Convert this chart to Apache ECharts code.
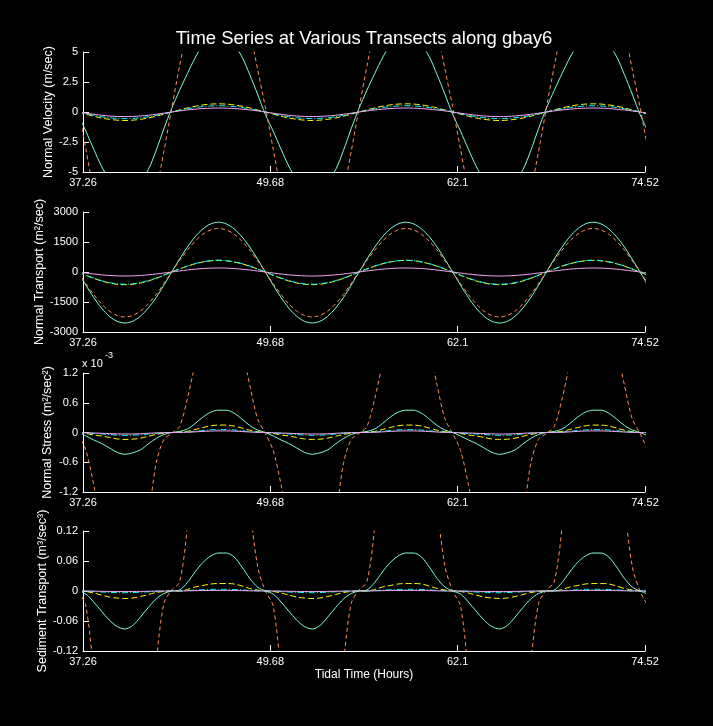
<!DOCTYPE html>
<html>
<head>
<meta charset="utf-8">
<title>Time Series at Various Transects along gbay6</title>
<script src="https://cdn.jsdelivr.net/npm/echarts@6/dist/echarts.min.js"></script>
<style>
  html, body { margin: 0; padding: 0; background: #000; }
  #chart { width: 713px; height: 726px; }
</style>
</head>
<body>
<div id="chart"></div>
<script>
// tidal time (hours), one sample every 12.42/24 h
var time = [
  36.93, 37.45, 37.97, 38.48, 39.00, 39.52, 40.04, 40.55, 41.07, 41.59, 42.11, 42.62,
  43.14, 43.66, 44.18, 44.69, 45.21, 45.73, 46.25, 46.76, 47.28, 47.80, 48.32, 48.83,
  49.35, 49.87, 50.39, 50.90, 51.42, 51.94, 52.46, 52.97, 53.49, 54.01, 54.53, 55.04,
  55.56, 56.08, 56.60, 57.11, 57.63, 58.15, 58.67, 59.18, 59.70, 60.22, 60.74, 61.25,
  61.77, 62.29, 62.81, 63.32, 63.84, 64.36, 64.88, 65.39, 65.91, 66.43, 66.95, 67.46,
  67.98, 68.50, 69.02, 69.53, 70.05, 70.57, 71.09, 71.60, 72.12, 72.64, 73.16, 73.67,
  74.19, 74.71
];
var xTicks = [37.26, 49.68, 62.1, 74.52];

// Normal Velocity (m/sec)
var velAqua = [
  -0.2, -1.6, -3.1, -4.5, -5.6, -6.2, -6.5, -6.3, -5.7, -4.8, -3.2, -1.4, 0.3, 1.8, 3.2, 4.5, 5.6, 6.2, 6.4, 6.2, 5.6, 4.6, 3.1, 1.5,
  -0.2, -1.6, -3.1, -4.5, -5.6, -6.2, -6.5, -6.3, -5.7, -4.8, -3.2, -1.4, 0.3, 1.8, 3.2, 4.5, 5.6, 6.2, 6.4, 6.2, 5.6, 4.6, 3.1, 1.5,
  -0.2, -1.6, -3.1, -4.5, -5.6, -6.2, -6.5, -6.3, -5.7, -4.8, -3.2, -1.4, 0.3, 1.8, 3.2, 4.5, 5.6, 6.2, 6.4, 6.2, 5.6, 4.6, 3.1, 1.5,
  -0.2, -1.6
];
var velCoral = [
  0.4, -3.1, -6.6, -9.5, -11.6, -12.9, -13.3, -12.9, -11.6, -9.5, -6.6, -3.3, 0.3, 3.8, 7.0, 9.8, 11.8, 13.0, 13.4, 13.0, 11.8, 9.6, 6.8, 3.6,
  0.4, -3.1, -6.6, -9.5, -11.6, -12.9, -13.3, -12.9, -11.6, -9.5, -6.6, -3.3, 0.3, 3.8, 7.0, 9.8, 11.8, 13.0, 13.4, 13.0, 11.8, 9.6, 6.8, 3.6,
  0.4, -3.1, -6.6, -9.5, -11.6, -12.9, -13.3, -12.9, -11.6, -9.5, -6.6, -3.3, 0.3, 3.8, 7.0, 9.8, 11.8, 13.0, 13.4, 13.0, 11.8, 9.6, 6.8, 3.6,
  0.4, -3.1
];
var velYellow = [
  0, -0.18, -0.35, -0.5, -0.61, -0.68, -0.71, -0.68, -0.61, -0.5, -0.35, -0.18, 0, 0.17, 0.34, 0.48, 0.59, 0.66, 0.68, 0.66, 0.59, 0.48, 0.34, 0.17,
  0, -0.18, -0.35, -0.5, -0.61, -0.68, -0.71, -0.68, -0.61, -0.5, -0.35, -0.18, 0, 0.17, 0.34, 0.48, 0.59, 0.66, 0.68, 0.66, 0.59, 0.48, 0.34, 0.17,
  0, -0.18, -0.35, -0.5, -0.61, -0.68, -0.71, -0.68, -0.61, -0.5, -0.35, -0.18, 0, 0.17, 0.34, 0.48, 0.59, 0.66, 0.68, 0.66, 0.59, 0.48, 0.34, 0.17,
  0, -0.18
];
var velCyan = [
  0, -0.14, -0.28, -0.39, -0.48, -0.53, -0.55, -0.53, -0.48, -0.39, -0.28, -0.14, 0, 0.13, 0.26, 0.37, 0.45, 0.5, 0.52, 0.5, 0.45, 0.37, 0.26, 0.13,
  0, -0.14, -0.28, -0.39, -0.48, -0.53, -0.55, -0.53, -0.48, -0.39, -0.28, -0.14, 0, 0.13, 0.26, 0.37, 0.45, 0.5, 0.52, 0.5, 0.45, 0.37, 0.26, 0.13,
  0, -0.14, -0.28, -0.39, -0.48, -0.53, -0.55, -0.53, -0.48, -0.39, -0.28, -0.14, 0, 0.13, 0.26, 0.37, 0.45, 0.5, 0.52, 0.5, 0.45, 0.37, 0.26, 0.13,
  0, -0.14
];
var velPink = [
  0, -0.1, -0.19, -0.27, -0.33, -0.37, -0.38, -0.37, -0.33, -0.27, -0.19, -0.1, 0, 0.09, 0.17, 0.23, 0.29, 0.32, 0.33, 0.32, 0.29, 0.23, 0.17, 0.09,
  0, -0.1, -0.19, -0.27, -0.33, -0.37, -0.38, -0.37, -0.33, -0.27, -0.19, -0.1, 0, 0.09, 0.17, 0.23, 0.29, 0.32, 0.33, 0.32, 0.29, 0.23, 0.17, 0.09,
  0, -0.1, -0.19, -0.27, -0.33, -0.37, -0.38, -0.37, -0.33, -0.27, -0.19, -0.1, 0, 0.09, 0.17, 0.23, 0.29, 0.32, 0.33, 0.32, 0.29, 0.23, 0.17, 0.09,
  0, -0.1
];

// Normal Transport (m2/sec)
var trAqua = [
  0, -660, -1275, -1800, -2210, -2465, -2550, -2465, -2210, -1800, -1275, -660, 0, 645, 1245, 1760, 2155, 2405, 2490, 2405, 2155, 1760, 1245, 645,
  0, -660, -1275, -1800, -2210, -2465, -2550, -2465, -2210, -1800, -1275, -660, 0, 645, 1245, 1760, 2155, 2405, 2490, 2405, 2155, 1760, 1245, 645,
  0, -660, -1275, -1800, -2210, -2465, -2550, -2465, -2210, -1800, -1275, -660, 0, 645, 1245, 1760, 2155, 2405, 2490, 2405, 2155, 1760, 1245, 645,
  0, -660
];
var trCoral = [
  0, -580, -1125, -1590, -1950, -2175, -2250, -2175, -1950, -1590, -1125, -580, 0, 565, 1090, 1540, 1890, 2105, 2180, 2105, 1890, 1540, 1090, 565,
  0, -580, -1125, -1590, -1950, -2175, -2250, -2175, -1950, -1590, -1125, -580, 0, 565, 1090, 1540, 1890, 2105, 2180, 2105, 1890, 1540, 1090, 565,
  0, -580, -1125, -1590, -1950, -2175, -2250, -2175, -1950, -1590, -1125, -580, 0, 565, 1090, 1540, 1890, 2105, 2180, 2105, 1890, 1540, 1090, 565,
  0, -580
];
var trYellow = [
  0, -165, -318, -450, -550, -613, -635, -613, -550, -450, -318, -165, 0, 150, 290, 410, 502, 560, 580, 560, 502, 410, 290, 150,
  0, -165, -318, -450, -550, -613, -635, -613, -550, -450, -318, -165, 0, 150, 290, 410, 502, 560, 580, 560, 502, 410, 290, 150,
  0, -165, -318, -450, -550, -613, -635, -613, -550, -450, -318, -165, 0, 150, 290, 410, 502, 560, 580, 560, 502, 410, 290, 150,
  0, -165
];
var trCyan = [
  0, -158, -305, -431, -528, -589, -610, -589, -528, -431, -305, -158, 0, 153, 295, 417, 511, 570, 590, 570, 511, 417, 295, 153,
  0, -158, -305, -431, -528, -589, -610, -589, -528, -431, -305, -158, 0, 153, 295, 417, 511, 570, 590, 570, 511, 417, 295, 153,
  0, -158, -305, -431, -528, -589, -610, -589, -528, -431, -305, -158, 0, 153, 295, 417, 511, 570, 590, 570, 511, 417, 295, 153,
  0, -158
];
var trPink = [
  0, -52, -100, -141, -173, -193, -200, -193, -173, -141, -100, -52, 0, 52, 100, 141, 173, 193, 200, 193, 173, 141, 100, 52,
  0, -52, -100, -141, -173, -193, -200, -193, -173, -141, -100, -52, 0, 52, 100, 141, 173, 193, 200, 193, 173, 141, 100, 52,
  0, -52, -100, -141, -173, -193, -200, -193, -173, -141, -100, -52, 0, 52, 100, 141, 173, 193, 200, 193, 173, 141, 100, 52,
  0, -52
];

// Normal Stress (x 10^-3 m2/sec2)
var stAqua = [
  0, -0.07, -0.15, -0.22, -0.31, -0.40, -0.44, -0.41, -0.35, -0.23, -0.12, -0.04, 0, 0.02, 0.07, 0.18, 0.31, 0.41, 0.45, 0.45, 0.39, 0.27, 0.14, 0.05,
  0, -0.07, -0.15, -0.22, -0.31, -0.40, -0.44, -0.41, -0.35, -0.23, -0.12, -0.04, 0, 0.02, 0.07, 0.18, 0.31, 0.41, 0.45, 0.45, 0.39, 0.27, 0.14, 0.05,
  0, -0.07, -0.15, -0.22, -0.31, -0.40, -0.44, -0.41, -0.35, -0.23, -0.12, -0.04, 0, 0.02, 0.07, 0.18, 0.31, 0.41, 0.45, 0.45, 0.39, 0.27, 0.14, 0.05,
  0, -0.07
];
var stCoral = [
  -0.02, -0.36, -1.05, -1.9, -2.5, -2.8, -2.9, -2.7, -2.3, -1.7, -0.62, -0.14, -0.02, 0.12, 0.68, 1.4, 2.2, 2.7, 2.9, 2.8, 2.4, 1.7, 0.95, 0.28,
  -0.02, -0.36, -1.05, -1.9, -2.5, -2.8, -2.9, -2.7, -2.3, -1.7, -0.62, -0.14, -0.02, 0.12, 0.68, 1.4, 2.2, 2.7, 2.9, 2.8, 2.4, 1.7, 0.95, 0.28,
  -0.02, -0.36, -1.05, -1.9, -2.5, -2.8, -2.9, -2.7, -2.3, -1.7, -0.62, -0.14, -0.02, 0.12, 0.68, 1.4, 2.2, 2.7, 2.9, 2.8, 2.4, 1.7, 0.95, 0.28,
  -0.02, -0.36
];
var stYellow = [
  0, -0.02, -0.05, -0.07, -0.10, -0.13, -0.14, -0.135, -0.115, -0.075, -0.04, -0.013, 0, 0.007, 0.023, 0.06, 0.10, 0.135, 0.15, 0.15, 0.13, 0.09, 0.046, 0.017,
  0, -0.02, -0.05, -0.07, -0.10, -0.13, -0.14, -0.135, -0.115, -0.075, -0.04, -0.013, 0, 0.007, 0.023, 0.06, 0.10, 0.135, 0.15, 0.15, 0.13, 0.09, 0.046, 0.017,
  0, -0.02, -0.05, -0.07, -0.10, -0.13, -0.14, -0.135, -0.115, -0.075, -0.04, -0.013, 0, 0.007, 0.023, 0.06, 0.10, 0.135, 0.15, 0.15, 0.13, 0.09, 0.046, 0.017,
  0, -0.02
];
var stCyan = [
  0, -0.009, -0.02, -0.029, -0.04, -0.052, -0.057, -0.053, -0.046, -0.03, -0.016, -0.005, 0, 0.003, 0.009, 0.023, 0.04, 0.053, 0.058, 0.058, 0.05, 0.035, 0.018, 0.006,
  0, -0.009, -0.02, -0.029, -0.04, -0.052, -0.057, -0.053, -0.046, -0.03, -0.016, -0.005, 0, 0.003, 0.009, 0.023, 0.04, 0.053, 0.058, 0.058, 0.05, 0.035, 0.018, 0.006,
  0, -0.009, -0.02, -0.029, -0.04, -0.052, -0.057, -0.053, -0.046, -0.03, -0.016, -0.005, 0, 0.003, 0.009, 0.023, 0.04, 0.053, 0.058, 0.058, 0.05, 0.035, 0.018, 0.006,
  0, -0.009
];
var stPink = [
  0, -0.005, -0.01, -0.015, -0.022, -0.028, -0.031, -0.029, -0.025, -0.016, -0.008, -0.003, 0, 0.001, 0.005, 0.013, 0.022, 0.029, 0.032, 0.032, 0.027, 0.019, 0.01, 0.003,
  0, -0.005, -0.01, -0.015, -0.022, -0.028, -0.031, -0.029, -0.025, -0.016, -0.008, -0.003, 0, 0.001, 0.005, 0.013, 0.022, 0.029, 0.032, 0.032, 0.027, 0.019, 0.01, 0.003,
  0, -0.005, -0.01, -0.015, -0.022, -0.028, -0.031, -0.029, -0.025, -0.016, -0.008, -0.003, 0, 0.001, 0.005, 0.013, 0.022, 0.029, 0.032, 0.032, 0.027, 0.019, 0.01, 0.003,
  0, -0.005
];

// Sediment Transport (m3/sec3)
var sdAqua = [
  0, -0.006, -0.022, -0.040, -0.058, -0.071, -0.076, -0.069, -0.052, -0.033, -0.016, -0.005, 0, 0.002, 0.017, 0.038, 0.057, 0.070, 0.076, 0.076, 0.068, 0.048, 0.025, 0.008,
  0, -0.006, -0.022, -0.040, -0.058, -0.071, -0.076, -0.069, -0.052, -0.033, -0.016, -0.005, 0, 0.002, 0.017, 0.038, 0.057, 0.070, 0.076, 0.076, 0.068, 0.048, 0.025, 0.008,
  0, -0.006, -0.022, -0.040, -0.058, -0.071, -0.076, -0.069, -0.052, -0.033, -0.016, -0.005, 0, 0.002, 0.017, 0.038, 0.057, 0.070, 0.076, 0.076, 0.068, 0.048, 0.025, 0.008,
  0, -0.006
];
var sdCoral = [
  0, -0.03, -0.17, -0.40, -0.65, -0.85, -0.95, -0.90, -0.70, -0.42, -0.15, -0.025, 0.002, 0.018, 0.13, 0.35, 0.6, 0.8, 0.9, 0.88, 0.72, 0.45, 0.18, 0.05,
  0, -0.03, -0.17, -0.40, -0.65, -0.85, -0.95, -0.90, -0.70, -0.42, -0.15, -0.025, 0.002, 0.018, 0.13, 0.35, 0.6, 0.8, 0.9, 0.88, 0.72, 0.45, 0.18, 0.05,
  0, -0.03, -0.17, -0.40, -0.65, -0.85, -0.95, -0.90, -0.70, -0.42, -0.15, -0.025, 0.002, 0.018, 0.13, 0.35, 0.6, 0.8, 0.9, 0.88, 0.72, 0.45, 0.18, 0.05,
  0, -0.03
];
var sdYellow = [
  0, -0.001, -0.004, -0.008, -0.012, -0.014, -0.015, -0.014, -0.011, -0.007, -0.003, -0.001, 0, 0, 0.003, 0.008, 0.011, 0.014, 0.015, 0.015, 0.014, 0.01, 0.005, 0.002,
  0, -0.001, -0.004, -0.008, -0.012, -0.014, -0.015, -0.014, -0.011, -0.007, -0.003, -0.001, 0, 0, 0.003, 0.008, 0.011, 0.014, 0.015, 0.015, 0.014, 0.01, 0.005, 0.002,
  0, -0.001, -0.004, -0.008, -0.012, -0.014, -0.015, -0.014, -0.011, -0.007, -0.003, -0.001, 0, 0, 0.003, 0.008, 0.011, 0.014, 0.015, 0.015, 0.014, 0.01, 0.005, 0.002,
  0, -0.001
];
var sdCyan = [
  0, 0, -0.001, -0.002, -0.0026, -0.0032, -0.0034, -0.0031, -0.0023, -0.0015, -0.0007, -0.0002, 0, 0, 0.0008, 0.0017, 0.0026, 0.0032, 0.0034, 0.0034, 0.003, 0.0022, 0.0011, 0.0004,
  0, 0, -0.001, -0.002, -0.0026, -0.0032, -0.0034, -0.0031, -0.0023, -0.0015, -0.0007, -0.0002, 0, 0, 0.0008, 0.0017, 0.0026, 0.0032, 0.0034, 0.0034, 0.003, 0.0022, 0.0011, 0.0004,
  0, 0, -0.001, -0.002, -0.0026, -0.0032, -0.0034, -0.0031, -0.0023, -0.0015, -0.0007, -0.0002, 0, 0, 0.0008, 0.0017, 0.0026, 0.0032, 0.0034, 0.0034, 0.003, 0.0022, 0.0011, 0.0004,
  0, 0
];
var sdPink = [
  0, 0, -0.0003, -0.0006, -0.0009, -0.001, -0.0011, -0.001, -0.0008, -0.0005, -0.0002, 0, 0, 0, 0.0003, 0.0006, 0.0009, 0.001, 0.0011, 0.0011, 0.001, 0.0007, 0.0004, 0.0001,
  0, 0, -0.0003, -0.0006, -0.0009, -0.001, -0.0011, -0.001, -0.0008, -0.0005, -0.0002, 0, 0, 0, 0.0003, 0.0006, 0.0009, 0.001, 0.0011, 0.0011, 0.001, 0.0007, 0.0004, 0.0001,
  0, 0, -0.0003, -0.0006, -0.0009, -0.001, -0.0011, -0.001, -0.0008, -0.0005, -0.0002, 0, 0, 0, 0.0003, 0.0006, 0.0009, 0.001, 0.0011, 0.0011, 0.001, 0.0007, 0.0004, 0.0001,
  0, 0
];

(function () {
    var myChart = echarts.init(document.getElementById("chart"));
    var font = "'Liberation Sans', Arial, Helvetica, sans-serif";

    // one panel per quantity
    var panels = [
        { top: 52,  height: 120, min: -5,    max: 5,    interval: 2.5,  name: "Normal Velocity (m/sec)",      gap: 28,
          lines: [velAqua, velCoral, velYellow, velCyan, velPink] },
        { top: 212, height: 120, min: -3000, max: 3000, interval: 1500, name: "Normal Transport (m\u00b2/sec)", gap: 37,
          lines: [trAqua, trCoral, trYellow, trCyan, trPink] },
        { top: 373, height: 119, min: -1.2,  max: 1.2,  interval: 0.6,  name: "Normal Stress (m\u00b2/sec\u00b2)", gap: 29,
          lines: [stAqua, stCoral, stYellow, stCyan, stPink] },
        { top: 531, height: 120, min: -0.12, max: 0.12, interval: 0.06, name: "Sediment Transport (m\u00b3/sec\u00b3)", gap: 34,
          lines: [sdAqua, sdCoral, sdYellow, sdCyan, sdPink] }
    ];
    var styles = [
        { color: "#7fffd4", type: "solid" },
        { color: "#ff8c5a", type: [4, 3] },
        { color: "#ffff00", type: [6, 3] },
        { color: "#00ffff", type: [6, 2, 1, 2] },
        { color: "#f4a6f4", type: "solid" }
    ];

    var grid = [], xAxis = [], yAxis = [], series = [];
    panels.forEach(function (p, i) {
        grid.push({ left: 83, width: 562, top: p.top, height: p.height, containLabel: false, outerBoundsMode: "none" });
        xAxis.push({
            type: "value", gridIndex: i,
            min: xTicks[0], max: xTicks[xTicks.length - 1], interval: 12.42,
            name: i === 3 ? "Tidal Time (Hours)" : "",
            nameLocation: "middle", nameGap: 18, nameMoveOverlap: false,
            nameTextStyle: { color: "#fff", fontSize: 12, fontFamily: font },
            axisLine: { onZero: false, lineStyle: { color: "#fff", width: 1 } },
            axisTick: { inside: true, length: 6, lineStyle: { color: "#fff" } },
            axisLabel: {
                color: "#fff", fontSize: 11, fontFamily: font, margin: 5,
                showMinLabel: true, showMaxLabel: true,
                formatter: function (v) { return String(+v.toFixed(2)); }
            },
            splitLine: { show: false }
        });
        yAxis.push({
            type: "value", gridIndex: i,
            min: p.min, max: p.max, interval: p.interval,
            name: p.name, nameLocation: "middle", nameGap: p.gap, nameRotate: 90,
            nameMoveOverlap: false,
            nameTextStyle: { color: "#fff", fontSize: 12.5, fontFamily: font },
            axisLine: { onZero: false, lineStyle: { color: "#fff", width: 1 } },
            axisTick: { inside: true, length: 6, lineStyle: { color: "#fff" } },
            axisLabel: {
                color: "#fff", fontSize: 11, fontFamily: font, margin: 5,
                formatter: function (v) { return String(+v.toFixed(3)); }
            },
            splitLine: { show: false }
        });
        p.lines.forEach(function (arr, j) {
            series.push({
                type: "line", xAxisIndex: i, yAxisIndex: i,
                data: time.map(function (t, k) { return [t, arr[k]]; }),
                symbol: "none", smooth: 0.3, clip: true,
                lineStyle: { color: styles[j].color, width: 1, type: styles[j].type },
                itemStyle: { color: styles[j].color },
                silent: true
            });
        });
    });

    var option = {
        backgroundColor: "#000",
        animation: false,
        title: {
            text: "Time Series at Various Transects along gbay6",
            left: 359, top: 24, textAlign: "center",
            textStyle: { color: "#fff", fontSize: 18.5, fontWeight: "normal", fontFamily: font }
        },
        grid: grid,
        xAxis: xAxis,
        yAxis: yAxis,
        series: series,
        graphic: [
            { type: "text", left: 82, top: 358, style: { text: "x 10", fill: "#fff", font: "11px " + font } },
            { type: "text", left: 105, top: 351, style: { text: "-3", fill: "#fff", font: "9px " + font } }
        ]
    };
    myChart.setOption(option);
    window.addEventListener("resize", function () {
        myChart.resize();
    });
})();
</script>
</body>
</html>
